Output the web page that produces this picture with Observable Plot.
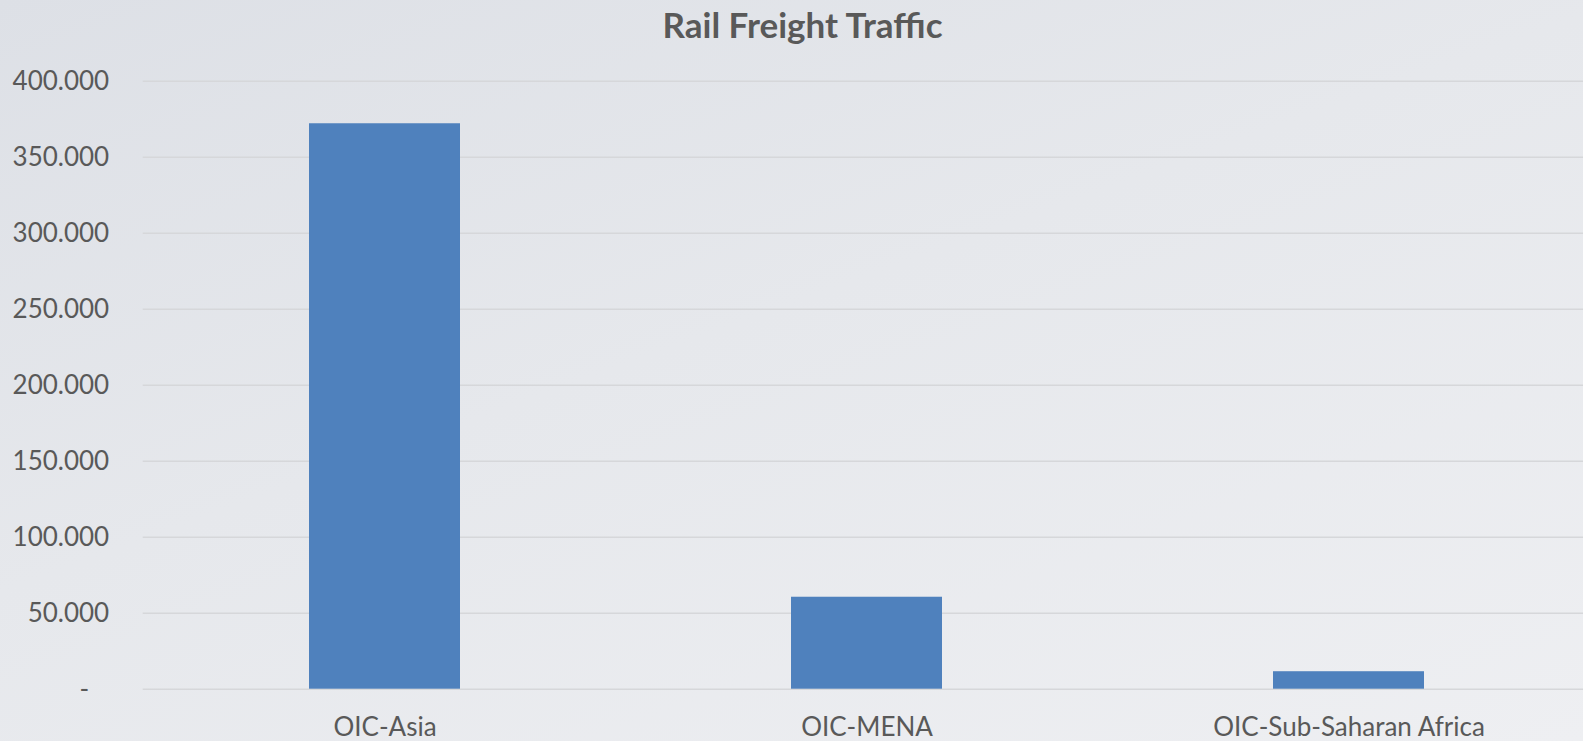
<!DOCTYPE html>
<html>
<head>
<meta charset="utf-8">
<script src="https://cdn.jsdelivr.net/npm/d3@7"></script>
<script src="https://cdn.jsdelivr.net/npm/@observablehq/plot@0.6"></script>
<style>
  html, body { margin: 0; padding: 0; }
  body {
    width: 1583px; height: 741px; overflow: hidden;
    background: linear-gradient(160deg, #dde0e6 0%, #e6e8ec 45%, #eeeff2 100%);
    font-family: Lato, "Open Sans", sans-serif;
  }
  #title {
    height: 46px; line-height: 48px; margin: 0;
    text-align: center; font-weight: bold; font-size: 35px; color: #595959;
    padding-left: 22px; box-sizing: border-box;
  }
  #chart svg { display: block; background: transparent; }
</style>
</head>
<body>
<div id="title">Rail Freight Traffic</div>
<div id="chart"></div>
<script>
const categories = ["OIC-Asia", "OIC-MENA", "OIC-Sub-Saharan Africa"];
const values = [372000, 60500, 11500];
const yTicks = [0, 50000, 100000, 150000, 200000, 250000, 300000, 350000, 400000];

const data = categories.map((c, i) => ({category: c, value: values[i]}));
const loc = d3.formatLocale({decimal: ",", thousands: ".", grouping: [3], currency: ["", ""]});
const fmt = loc.format(",d");
const textColor = "#595959";

const plot = Plot.plot({
  width: 1583,
  height: 695,
  marginTop: 34.7,
  marginBottom: 52.3,
  marginLeft: 142.7,
  marginRight: 0,
  style: {background: "transparent", fontFamily: "Lato, 'Open Sans', sans-serif", fontSize: "26px", color: textColor},
  x: {domain: categories, range: [142.7, 1590.5], paddingInner: 0.687, paddingOuter: 0.3435, label: null},
  y: {domain: [0, 400000], label: null},
  marks: [
    Plot.ruleY(yTicks, {stroke: "#d6d7da", strokeWidth: 1.5}),
    Plot.barY(data, {x: "category", y: "value", fill: "#4f81bd"}),
    Plot.axisY({ticks: yTicks, tickSize: 0, tickPadding: 34, label: null,
      tickFormat: d => d === 0 ? "-\u00a0\u00a0\u00a0" : fmt(d), fill: textColor, fontSize: 26}),
    Plot.axisX({tickSize: 0, tickPadding: 28, label: null, fill: textColor, fontSize: 26})
  ]
});
document.getElementById("chart").appendChild(plot);
</script>
</body>
</html>
